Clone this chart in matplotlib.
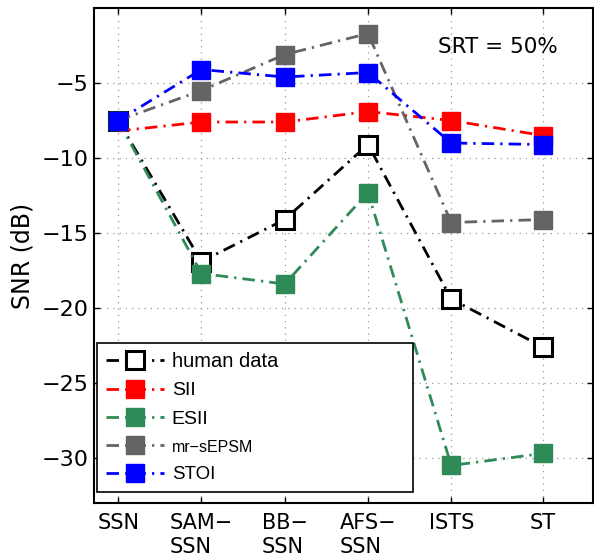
import numpy as np
import matplotlib.pyplot as plt

# conditions (x axis)
conditions = ["SSN", "SAM\u2212\nSSN", "BB\u2212\nSSN", "AFS\u2212\nSSN", "ISTS", "ST"]
xpos = [1, 2, 3, 4, 5, 6.1]

# SRT at 50% (dB SNR)
human = [-7.5, -16.9, -14.1, -9.1, -19.4, -22.6]
sii = [-8.2, -7.6, -7.6, -6.9, -7.5, -8.5]
esii = [-7.5, -17.7, -18.4, -12.3, -30.5, -29.7]
epsm = [-7.5, -5.5, -3.1, -1.7, -14.3, -14.1]
stoi = [-7.5, -4.1, -4.6, -4.3, -9.0, -9.1]

plt.rcParams['font.family'] = ['DejaVu Sans']

fig = plt.figure(figsize=(5.94, 5.58), dpi=100)
ax = fig.add_axes([0.158, 0.0986, 0.840, 0.887])

ms = 13
lw = 2
dd = (4.5, 2.2, 0.8, 2.2)  # dash-dot pattern
ax.plot(xpos, human, color='black', lw=lw, dashes=dd, marker='s', ms=ms,
        mfc='white', mec='black', mew=2.2, label='human data', zorder=3)
ax.plot(xpos, sii, color='#ff0000', lw=lw, dashes=dd, marker='s', ms=ms,
        markevery=[1, 2, 3, 4, 5], label='SII', zorder=4)
ax.plot(xpos, esii, color='#2e8b57', lw=lw, dashes=dd, marker='s', ms=ms,
        label='ESII', zorder=4)
ax.plot(xpos, epsm, color='#646464', lw=lw, dashes=dd, marker='s', ms=ms,
        label='mr\u2212sEPSM', zorder=4)
ax.plot(xpos, stoi, color='#0000ff', lw=lw, dashes=dd, marker='s', ms=ms,
        label='STOI', zorder=5)

ax.set_xlim(0.708, 6.70)
ax.set_ylim(-33, 0)
ax.set_xticks(xpos)
ax.set_xticklabels(conditions, fontsize=15, linespacing=1.25)
for lbl in ax.get_xticklabels():
    lbl.set_multialignment('left')
ax.set_yticks([-30, -25, -20, -15, -10, -5])
ax.tick_params(axis='y', labelsize=16)
ax.tick_params(direction='in', length=4, top=True, right=True, width=1)
ax.tick_params(axis='x', pad=7)
ax.grid(True, linestyle=(0, (1, 4)), color='#999999', linewidth=0.9)
for s in ax.spines.values():
    s.set_linewidth(1.5)

ax.set_ylabel("SNR (dB)", fontsize=17)
ax.yaxis.set_label_coords(-0.118, 0.5)

ax.text(0.81, 0.921, "SRT = 50%", transform=ax.transAxes, fontsize=15.5,
        ha='center', va='center')

leg = ax.legend(loc='lower left', bbox_to_anchor=(0.006, 0.022, 0.633, 0.3),
                mode='expand', fontsize=14, handlelength=3.0, labelspacing=0.55,
                fancybox=False, framealpha=1, edgecolor='black',
                borderaxespad=0, handletextpad=0.4, borderpad=0.45)
leg.get_frame().set_linewidth(1.2)
sizes = [14.5, 14, 14, 11.5, 13.5]
for t, sz in zip(leg.get_texts(), sizes):
    t.set_fontsize(sz)
    t.set_family(['Liberation Sans', 'DejaVu Sans'])

fig.savefig("out.png", dpi=100)
